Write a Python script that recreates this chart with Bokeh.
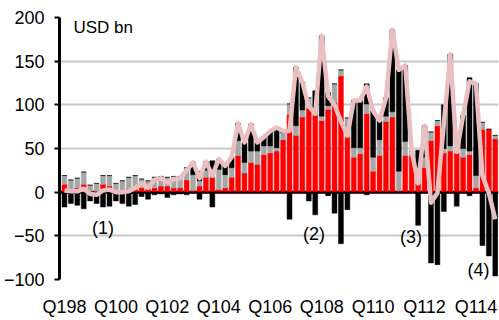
from bokeh.plotting import figure
from bokeh.models import Range1d, FixedTicker, Span, Label, ColumnDataSource
from bokeh.embed import file_html
from bokeh.resources import INLINE

# Quarterly data, Q1 1998 .. Q4 2014 (USD bn)
quarters = list(range(68))
tick_pos = [0, 8, 16, 24, 32, 40, 48, 56, 64]
tick_labels = ["Q198", "Q100", "Q102", "Q104", "Q106", "Q108", "Q110", "Q112", "Q114"]

red = [9, 3, 5, 9, 1, 1, 9, 7, 1, 1, 4, 3, 5, 5, 5, 7, 7, 5, 5, 14,
       2, 7, 17, 17, 3, 5, 17, 42, 22, 34, 32, 43, 45, 47, 60, 89, 65, 86, 96, 88,
       82, 95, 103, 133, 63, 40, 44, 90, 24, 42, 81, 86, 2, 42, 42, 10, 28, 59, 76, 45,
       47, 45, 40, 43, 5, 72, 72, 61]
gray = [10, 11, 11, 14, 7, 9, 10, 12, 9, 12, 13, 16, 10, 8, 12, 11, 10, 13, 13, 14,
        18, 6, 8, 5, 23, 15, 11, 17, 12, 13, 15, 10, 8, 4, 8, 12, 11, 8, 12, 8,
        5, 4, 21, 7, 22, 11, 7, 11, 16, 18, 6, 6, 22, 16, 5, 18, 12, 10, 6, 5,
        6, 17, 10, 4, 14, 8, 0, 4]
black = [0, 0, 0, 0, 0, 0, 0, 0, 0, 0, 0, 0, 0, 0, 0, 0, 0, 0, 0, 0,
         14, 11, 10, 14, 12, 10, 12, 20, 23, 31, 10, 10, 17, 23, 2, 0, 67, 32, 0, 20,
         92, 15, 0, 0, 0, 54, 54, 23, 53, 22, 21, 94, 116, 87, 0, 20, 36, 0, 0, 50,
         105, 0, 38, 84, 105, 0, 0, 0]
neg = [-17, -13, -15, -19, -10, -13, -17, -16, -10, -13, -16, -14, -5, -8, -3, -2, -6, -3, -2, -3,
       0, -8, 0, -17, 0, 0, 0, 0, 0, 0, 0, 0, 0, 0, 0, -31, 0, 0, -10, -26,
       0, -4, -24, -59, -20, 0, 0, -3, 0, 0, 0, 0, 0, 0, 0, -38, 0, -81, -83, -22,
       0, -16, 0, -4, 0, -61, -73, -96]
total = [2, 1, 1, 4, -2, -3, 2, 3, 0, 0, 1, 5, 10, 5, 14, 16, 11, 15, 16, 25,
         34, 16, 35, 19, 38, 30, 40, 79, 57, 78, 57, 63, 70, 74, 70, 70, 143, 126, 98, 90,
         179, 110, 100, 81, 65, 105, 105, 121, 93, 82, 108, 186, 140, 145, 47, 10, 76, -12, -1, 78,
         158, 46, 88, 127, 124, 19, -1, -31]

notes = ["(1)", "(2)", "(3)", "(4)"]
note_x = [6.0, 38.8, 53.9, 64.4]
note_y = [-41, -48, -51, -89]

FONT = "Liberation Sans"

src = ColumnDataSource(dict(x=quarters, red=red, gray=gray, black=black, neg=neg, total=total))

p = figure(width=499, height=320, output_backend="svg", toolbar_location=None,
           x_range=Range1d(-0.77, 67.5), y_range=Range1d(-100, 200),
           min_border_left=57, min_border_right=1, min_border_top=17, min_border_bottom=41)
p.outline_line_color = None
p.background_fill_color = "white"

p.vbar_stack(["red", "gray", "black"], x="x", width=0.76, source=src,
             fill_color=["#FF0000", "#A6A6A6", "#000000"],
             line_color=["#FF0000", "#A6A6A6", "#000000"], line_width=0.5)
p.vbar(x="x", top="neg", bottom=0, width=0.76, source=src,
       fill_color="#000000", line_color="#000000", line_width=0.5)

zero = Span(location=0, dimension="width", line_color="black", line_width=3, level="underlay")
p.add_layout(zero)

p.line("x", "total", source=src, line_color="#E9C0BF", line_width=4.5, line_join="round")

yt = FixedTicker(ticks=[-100, -50, 0, 50, 100, 150, 200])
p.yaxis.ticker = yt
p.ygrid.ticker = yt
p.ygrid.grid_line_color = "#C8C8C8"
p.ygrid.grid_line_width = 2
p.xgrid.grid_line_color = None

p.yaxis.axis_line_width = 3
p.yaxis.axis_line_color = "black"
p.yaxis.major_tick_out = 5
p.yaxis.major_tick_in = 0
p.yaxis.major_tick_line_width = 2
p.yaxis.minor_tick_line_color = None
p.yaxis.major_label_text_font = FONT
p.yaxis.major_label_text_font_size = "18px"
p.yaxis.major_label_text_color = "black"
p.yaxis.major_label_standoff = 10

p.xaxis.ticker = FixedTicker(ticks=tick_pos)
p.xaxis.major_label_overrides = {t: l for t, l in zip(tick_pos, tick_labels)}
p.xaxis.axis_line_color = None
p.xaxis.major_tick_line_color = None
p.xaxis.minor_tick_line_color = None
p.xaxis.major_label_text_font = FONT
p.xaxis.major_label_text_font_size = "18px"
p.xaxis.major_label_text_color = "black"
p.xaxis.major_label_standoff = 11

p.add_layout(Label(x=1.4, y=199, text="USD bn", text_font=FONT, text_font_size="17px",
                   text_color="black", text_align="left", text_baseline="top"))
for t, xx, yy in zip(notes, note_x, note_y):
    p.add_layout(Label(x=xx, y=yy, text=t, text_font=FONT, text_font_size="18px",
                       text_color="black", text_align="center", text_baseline="middle"))

open("out.html", "w").write(file_html(p, INLINE))
